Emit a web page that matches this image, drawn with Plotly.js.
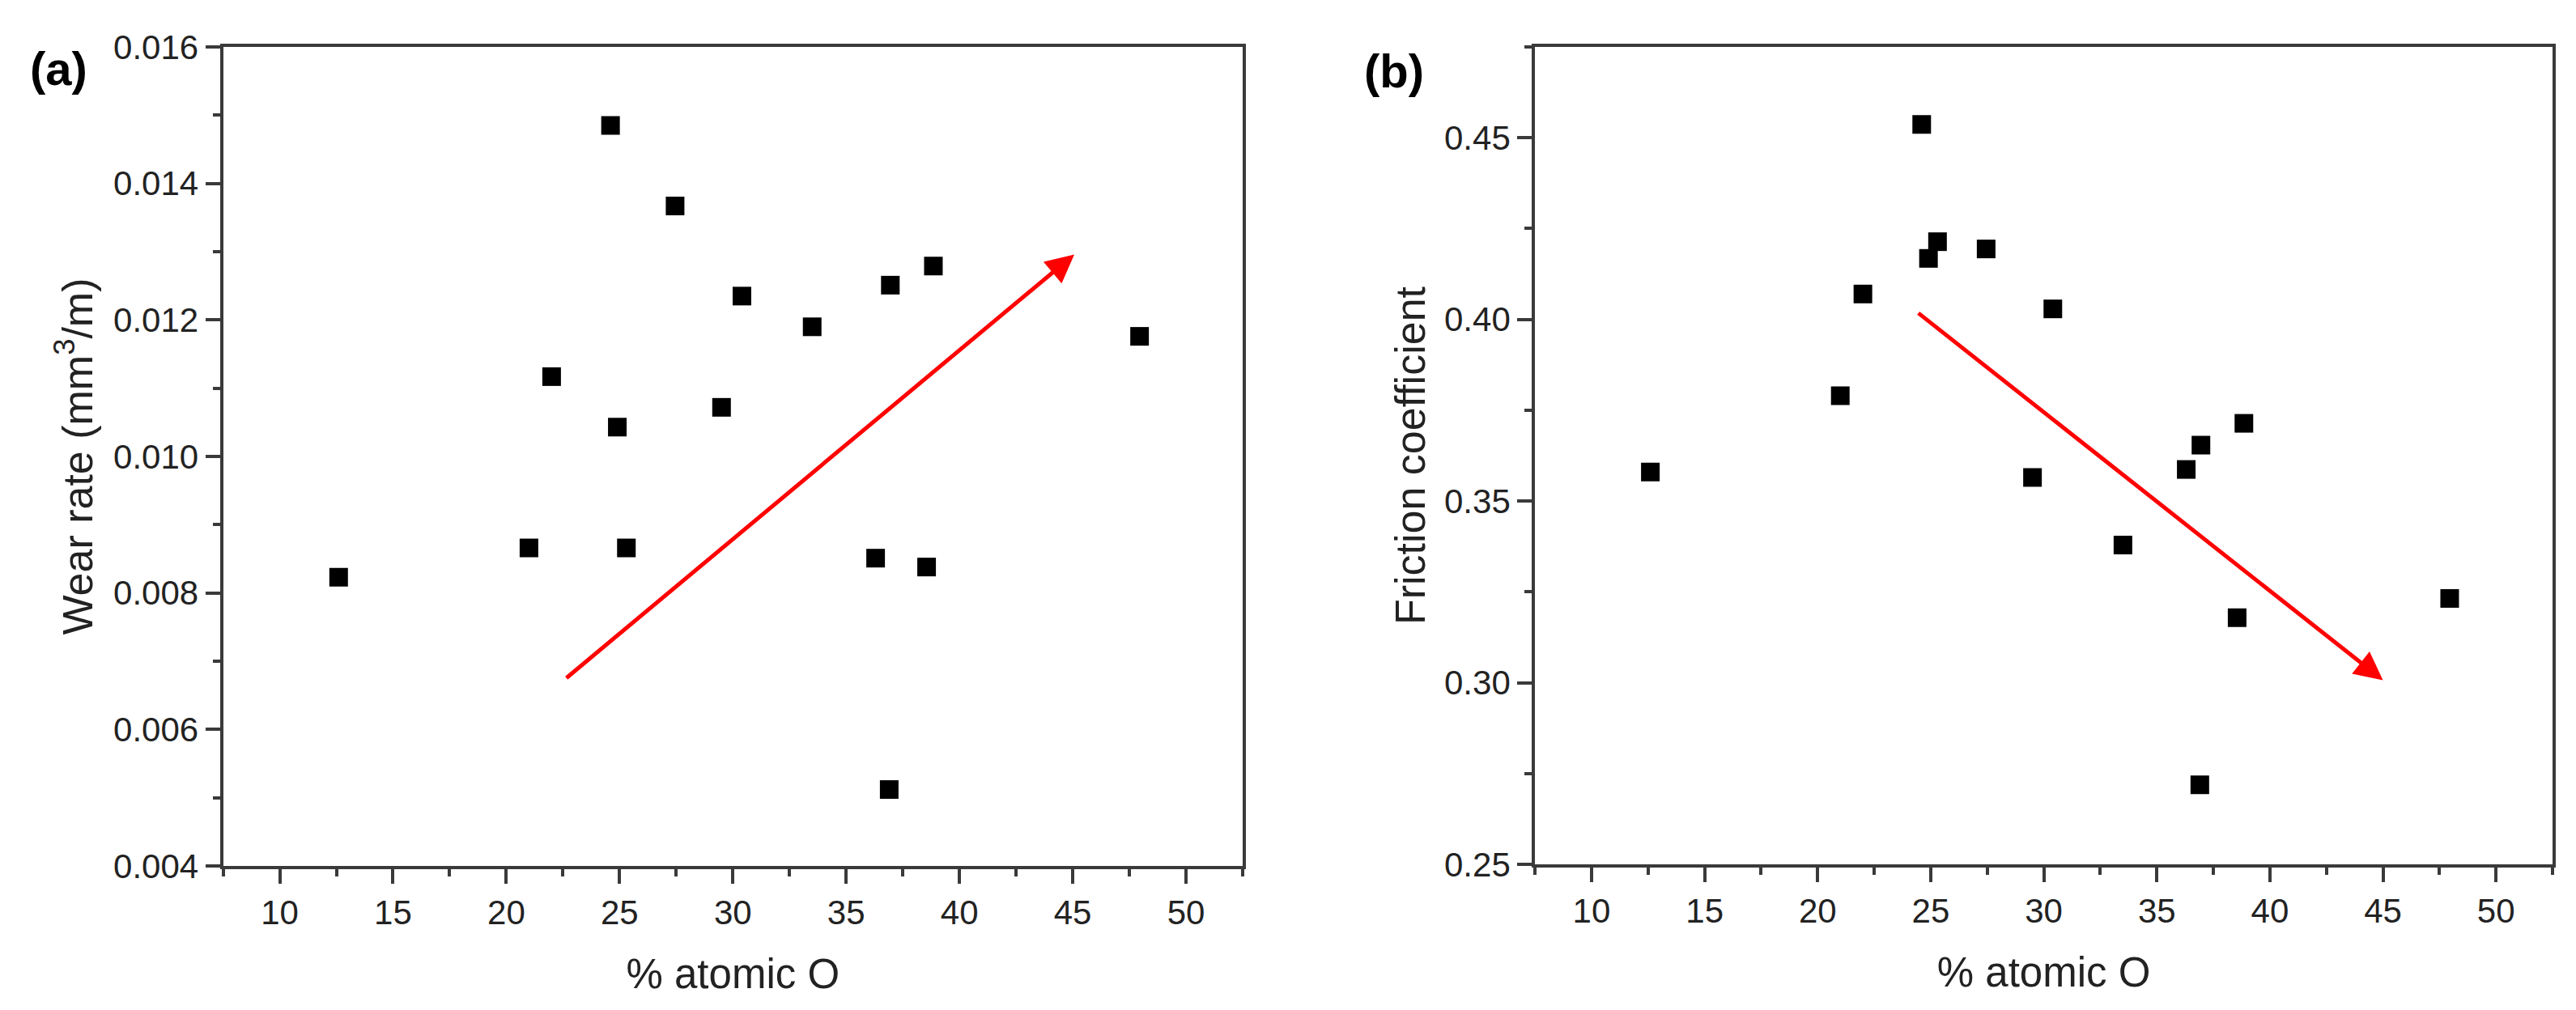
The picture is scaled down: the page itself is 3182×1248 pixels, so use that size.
<!DOCTYPE html>
<html>
<head>
<meta charset="utf-8">
<script src="https://cdn.plot.ly/plotly-3.0.1.min.js"></script>
<style>
  html, body { margin: 0; padding: 0; background: #fff; }
  #chart { width: 3182px; height: 1248px; }
</style>
</head>
<body>
<div id="chart"></div>
<script>
// % atomic O for each coating (same samples in both panels)
const oxygenA = [12.6, 21.0, 22.0, 24.6, 24.9, 25.3, 27.45, 29.5, 30.4, 33.5, 36.3, 36.95, 36.9, 38.55, 38.85, 47.95];
const wearRate = [0.00823, 0.00866, 0.01117, 0.01485, 0.01043, 0.00866, 0.01367, 0.01072, 0.01235, 0.0119, 0.00851, 0.01251, 0.00512, 0.00838, 0.01279, 0.01176];

const oxygenB = [12.6, 21.0, 22.0, 24.6, 24.9, 25.3, 27.45, 29.5, 30.4, 33.5, 36.3, 36.95, 36.9, 38.55, 38.85, 47.95];
const friction = [0.358, 0.379, 0.407, 0.4537, 0.4168, 0.4214, 0.4194, 0.3565, 0.4029, 0.3379, 0.3587, 0.3654, 0.2719, 0.3179, 0.3714, 0.3232];

// trend arrows: [tail x, tail y, head x, head y]
const arrowA = [22.6, 0.00674, 45.07, 0.01296];
const arrowB = [24.4, 0.402, 45.0, 0.3007];

const font = "Liberation Sans, Arial, sans-serif";
const axisColor = "#3a3a3a";

let traces = [
  {
    x: oxygenA, y: wearRate, type: "scatter", mode: "markers",
    xaxis: "x", yaxis: "y",
    marker: {symbol: "square", size: 23, color: "#000"},
    showlegend: false
  },
  {
    x: oxygenB, y: friction, type: "scatter", mode: "markers",
    xaxis: "x2", yaxis: "y2",
    marker: {symbol: "square", size: 23, color: "#000"},
    showlegend: false
  }
];

function xAxis(domain, anchor) {
  return {
    domain: domain, anchor: anchor,
    range: [7.5, 52.5], dtick: 5, tick0: 0,
    showgrid: false, zeroline: false,
    showline: true, mirror: true, linecolor: axisColor, linewidth: 4,
    ticks: "outside", ticklen: 18, tickwidth: 4, tickcolor: axisColor,
    minor: {ticks: "outside", ticklen: 9, tickwidth: 4, tickcolor: axisColor, dtick: 2.5, tick0: 0},
    tickfont: {family: font, size: 42, color: "#222"},
    title: {text: "% atomic O", font: {family: font, size: 51, color: "#222"}, standoff: 36}
  };
}

function yAxis(domain, anchor, range, dtick, fmt, title, standoff) {
  return {
    domain: domain, anchor: anchor,
    range: range, dtick: dtick, tick0: 0, tickformat: fmt,
    showgrid: false, zeroline: false,
    showline: true, mirror: true, linecolor: axisColor, linewidth: 4,
    ticks: "outside", ticklen: 18, tickwidth: 4, tickcolor: axisColor,
    minor: {ticks: "outside", ticklen: 9, tickwidth: 4, tickcolor: axisColor, dtick: dtick / 2, tick0: 0},
    tickfont: {family: font, size: 42, color: "#222"},
    title: {text: title, font: {family: font, size: 52, color: "#222"}, standoff: standoff}
  };
}

function arrow(a, xref, yref) {
  return {
    x: a[2], y: a[3], ax: a[0], ay: a[1],
    xref: xref, yref: yref, axref: xref, ayref: yref,
    showarrow: true, arrowhead: 2, arrowsize: 1.4, arrowwidth: 5,
    arrowcolor: "#ff0000", text: ""
  };
}

let layout = {
  width: 3182, height: 1248,
  margin: {l: 0, r: 0, t: 0, b: 0},
  paper_bgcolor: "#fff", plot_bgcolor: "#fff",
  font: {family: font, color: "#222"},
  xaxis: xAxis([0.0866, 0.4824], "y"),
  yaxis: yAxis([0.1426, 0.9535], "x", [0.004, 0.016], 0.002, ".3f", "Wear rate (mm<sup>3</sup>/m)", 10),
  xaxis2: xAxis([0.5959, 0.9909], "y2"),
  yaxis2: yAxis([0.1442, 0.9535], "x2", [0.25, 0.475], 0.05, ".2f", "Friction coefficient", 8),
  annotations: [
    arrow(arrowA, "x", "y"),
    arrow(arrowB, "x2", "y2"),
    {text: "<b>(a)</b>", xref: "paper", yref: "paper", x: 0.0229, y: 0.932,
     xanchor: "center", yanchor: "middle", showarrow: false,
     font: {family: font, size: 58, color: "#000"}},
    {text: "<b>(b)</b>", xref: "paper", yref: "paper", x: 0.5412, y: 0.930,
     xanchor: "center", yanchor: "middle", showarrow: false,
     font: {family: font, size: 58, color: "#000"}}
  ]
};

Plotly.newPlot("chart", traces, layout, {displayModeBar: false, staticPlot: true});
</script>
</body>
</html>
